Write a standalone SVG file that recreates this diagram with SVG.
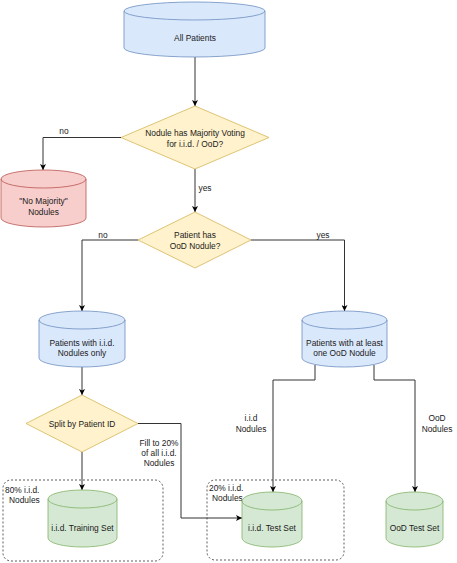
<svg xmlns="http://www.w3.org/2000/svg" width="457" height="563" viewBox="0 0 457 563">
<defs>
<marker id="arr" viewBox="0 0 10 10" refX="10" refY="5" markerWidth="6" markerHeight="6" markerUnits="userSpaceOnUse" orient="auto">
<path d="M0,0 L10,5 L0,10 L2.5,5 Z" fill="#000"/>
</marker>
<style>
text{font-family:"Liberation Sans",Arial,sans-serif;font-size:8.4px;fill:#1a1a1a}
.c{text-anchor:middle}
.blue{fill:#dae8fc;stroke:#6c8ebf;stroke-width:0.8}
.red{fill:#f8cecc;stroke:#b85450;stroke-width:0.8}
.green{fill:#d5e8d4;stroke:#82b366;stroke-width:0.8}
.yellow{fill:#fff2cc;stroke:#d6b656;stroke-width:0.8}
.front{fill:none}
.edge{fill:none;stroke:#333;stroke-width:1;marker-end:url(#arr)}
.grp{fill:none;stroke:#333;stroke-width:0.8;stroke-dasharray:2,2}
</style>
</defs>
<rect width="457" height="563" fill="#fff"/>
<g id="group-train"><rect class="grp" x="3" y="480" width="160" height="81" rx="8"/><text x="5" y="493">80% i.i.d.</text><text x="9" y="503">Nodules</text></g>
<g id="group-test"><rect class="grp" x="207" y="480" width="137" height="80" rx="8"/><text x="209" y="491">20% i.i.d.</text><text x="212" y="501">Nodules</text></g>
<g id="connectors">
<path class="edge" d="M195,57 L195,106"/>
<path class="edge" d="M121,137.5 L43,137.5 L43,170"/>
<path class="edge" d="M195,169 L195,212"/>
<path class="edge" d="M138,240 L82,240 L82,311"/>
<path class="edge" d="M251,240 L344.5,240 L344.5,311"/>
<path class="edge" d="M82,367 L82,395"/>
<path class="edge" d="M138,423.5 L181,423.5 L181,518 L242,518"/>
<path class="edge" d="M82,452 L82,490"/>
<path class="edge" d="M315,365 L315,380 L273,380 L273,492"/>
<path class="edge" d="M374,365 L374,380 L415,380 L415,492"/>
<text x="64" y="134" class="c">no</text>
<text x="205" y="191" class="c">yes</text>
<text x="103" y="238" class="c">no</text>
<text x="323" y="238" class="c">yes</text>
<text x="159" y="446" class="c">Fill to 20%</text>
<text x="159" y="456" class="c">of all i.i.d.</text>
<text x="159" y="466" class="c">Nodules</text>
<text x="251" y="421" class="c">i.i.d</text>
<text x="251" y="432" class="c">Nodules</text>
<text x="437" y="421" class="c">OoD</text>
<text x="437" y="432" class="c">Nodules</text>
</g>
<g id="all-patients"><path class="blue" d="M124,11 A70.5,9 0 0 1 265,11 L265,48 A70.5,9 0 0 1 124,48 Z"/><path class="blue front" d="M124,11 A70.5,9 0 0 0 265,11"/><text x="195" y="41" class="c">All Patients</text></g>
<g id="majority-voting"><path class="yellow" d="M195,106 L269,137.5 L195,169 L121,137.5 Z"/><text x="195" y="136" class="c">Nodule has Majority Voting</text><text x="195" y="147" class="c">for i.i.d. / OoD?</text></g>
<g id="no-majority"><path class="red" d="M1,179 A42.5,9 0 0 1 86,179 L86,218 A42.5,9 0 0 1 1,218 Z"/><path class="red front" d="M1,179 A42.5,9 0 0 0 86,179"/><text x="43.5" y="204" class="c">"No Majority"</text><text x="43.5" y="215" class="c">Nodules</text></g>
<g id="has-ood"><path class="yellow" d="M195,212 L251,240 L195,268 L138,240 Z"/><text x="195" y="238" class="c">Patient has</text><text x="195" y="249" class="c">OoD Nodule?</text></g>
<g id="iid-only"><path class="blue" d="M39,320 A43,9 0 0 1 125,320 L125,358 A43,9 0 0 1 39,358 Z"/><path class="blue front" d="M39,320 A43,9 0 0 0 125,320"/><text x="82" y="346" class="c">Patients with i.i.d.</text><text x="82" y="356" class="c">Nodules only</text></g>
<g id="with-ood"><path class="blue" d="M302,320 A42.5,9 0 0 1 387,320 L387,358 A42.5,9 0 0 1 302,358 Z"/><path class="blue front" d="M302,320 A42.5,9 0 0 0 387,320"/><text x="344.5" y="346" class="c">Patients with at least</text><text x="344.5" y="356" class="c">one OoD Nodule</text></g>
<g id="split"><path class="yellow" d="M82,395 L138,423.5 L82,452 L26,423.5 Z"/><text x="82" y="427" class="c">Split by Patient ID</text></g>
<g id="train-set"><path class="green" d="M48,499 A34.5,9 0 0 1 117,499 L117,538 A34.5,9 0 0 1 48,538 Z"/><path class="green front" d="M48,499 A34.5,9 0 0 0 117,499"/><text x="82.5" y="531" class="c">i.i.d. Training Set</text></g>
<g id="iid-test"><path class="green" d="M242,501 A30,9 0 0 1 302,501 L302,538 A30,9 0 0 1 242,538 Z"/><path class="green front" d="M242,501 A30,9 0 0 0 302,501"/><text x="272" y="531" class="c">i.i.d. Test Set</text></g>
<g id="ood-test"><path class="green" d="M386,501 A28.5,9 0 0 1 443,501 L443,538 A28.5,9 0 0 1 386,538 Z"/><path class="green front" d="M386,501 A28.5,9 0 0 0 443,501"/><text x="414.5" y="531" class="c">OoD Test Set</text></g>
</svg>
